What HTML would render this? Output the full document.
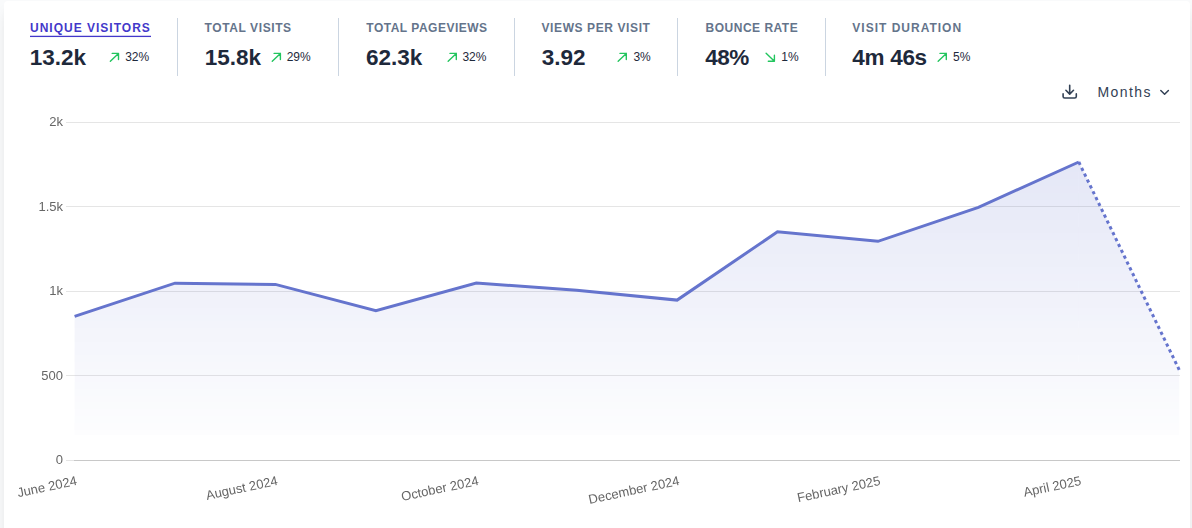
<!DOCTYPE html>
<html><head><meta charset="utf-8"><style>
html,body{margin:0;padding:0;width:1192px;height:528px;overflow:hidden;background:#f9fafb;font-family:'Liberation Sans', sans-serif;}
.card{position:absolute;left:4px;top:1px;width:1186px;height:560px;background:#fff;border-radius:4px;box-shadow:0 10px 15px -3px rgba(0,0,0,.1), 0 4px 6px -4px rgba(0,0,0,.1);}
svg{position:absolute;left:0;top:0;}
svg text{font-family:'Liberation Sans', sans-serif;}
.chart{will-change:transform;}
</style></head><body>
<div class="card"></div>
<svg width="1192" height="528" viewBox="0 0 1192 528">
<rect x="177" y="18" width="1" height="58" fill="#cbd5e1"/>
<rect x="338" y="18" width="1" height="58" fill="#cbd5e1"/>
<rect x="514" y="18" width="1" height="58" fill="#cbd5e1"/>
<rect x="677" y="18" width="1" height="58" fill="#cbd5e1"/>
<rect x="825" y="18" width="1" height="58" fill="#cbd5e1"/>
<text x="30" y="32" font-size="12" font-weight="700" letter-spacing="1.0" fill="#4338ca">UNIQUE VISITORS</text>
<text x="29.8" y="65" font-size="22.5" font-weight="700" letter-spacing="0.0" fill="#1e293b">13.2k</text>
<path d="M110.35 61.3 L118.50 53.4 M112.20 53.4 H118.50 V59.6" stroke="#22c55e" stroke-width="1.4" fill="none" stroke-linecap="round" stroke-linejoin="round"/>
<text x="125.2" y="61" font-size="12" fill="#1e293b">32%</text>
<text x="204.5" y="32" font-size="12" font-weight="700" letter-spacing="0.6" fill="#64748b">TOTAL VISITS</text>
<text x="204.8" y="65" font-size="22.5" font-weight="700" letter-spacing="0.0" fill="#1e293b">15.8k</text>
<path d="M272.25 61.3 L280.40 53.4 M274.10 53.4 H280.40 V59.6" stroke="#22c55e" stroke-width="1.4" fill="none" stroke-linecap="round" stroke-linejoin="round"/>
<text x="286.7" y="61" font-size="12" fill="#1e293b">29%</text>
<text x="366.3" y="32" font-size="12" font-weight="700" letter-spacing="0.5" fill="#64748b">TOTAL PAGEVIEWS</text>
<text x="365.9" y="65" font-size="22.5" font-weight="700" letter-spacing="0.0" fill="#1e293b">62.3k</text>
<path d="M448.15 61.3 L456.30 53.4 M450.00 53.4 H456.30 V59.6" stroke="#22c55e" stroke-width="1.4" fill="none" stroke-linecap="round" stroke-linejoin="round"/>
<text x="462.4" y="61" font-size="12" fill="#1e293b">32%</text>
<text x="541.5" y="32" font-size="12" font-weight="700" letter-spacing="0.6" fill="#64748b">VIEWS PER VISIT</text>
<text x="541.7" y="65" font-size="22.5" font-weight="700" letter-spacing="0.0" fill="#1e293b">3.92</text>
<path d="M618.15 61.3 L626.30 53.4 M620.00 53.4 H626.30 V59.6" stroke="#22c55e" stroke-width="1.4" fill="none" stroke-linecap="round" stroke-linejoin="round"/>
<text x="633.4" y="61" font-size="12" fill="#1e293b">3%</text>
<text x="705.6" y="32" font-size="12" font-weight="700" letter-spacing="0.5" fill="#64748b">BOUNCE RATE</text>
<text x="705.3" y="65" font-size="22.5" font-weight="700" letter-spacing="-0.5" fill="#1e293b">48%</text>
<path d="M766.10 53.2 L774.40 61.3 M768.30 61.3 H774.40 V55.3" stroke="#22c55e" stroke-width="1.4" fill="none" stroke-linecap="round" stroke-linejoin="round"/>
<text x="781.3" y="61" font-size="12" fill="#1e293b">1%</text>
<text x="852.3" y="32" font-size="12" font-weight="700" letter-spacing="1.0" fill="#64748b">VISIT DURATION</text>
<text x="852.3" y="65" font-size="22.5" font-weight="700" letter-spacing="-0.3" fill="#1e293b">4m 46s</text>
<path d="M938.15 61.3 L946.30 53.4 M940.00 53.4 H946.30 V59.6" stroke="#22c55e" stroke-width="1.4" fill="none" stroke-linecap="round" stroke-linejoin="round"/>
<text x="953" y="61" font-size="12" fill="#1e293b">5%</text>
<rect x="30" y="35.75" width="121" height="1.3" fill="#4338ca"/>
<path d="M1069.7 85.3 V94 M1065.9 90.3 L1069.7 94.1 L1073.5 90.3 M1063.1 93.9 V96.4 Q1063.1 98 1064.7 98 H1074.7 Q1076.3 98 1076.3 96.4 V93.9" stroke="#334155" stroke-width="1.6" fill="none" stroke-linecap="round" stroke-linejoin="round"/>
<text x="1097.5" y="97" font-size="14" letter-spacing="1.4" fill="#334155">Months</text>
<path d="M1160.8 90.5 L1164.6 94.3 L1168.4 90.5" stroke="#334155" stroke-width="1.5" fill="none" stroke-linecap="round" stroke-linejoin="round"/>
</svg>
<svg class="chart" width="1192" height="528" viewBox="0 0 1192 528">
<defs><clipPath id="c1"><polygon points="74.6,435 74.6,316.3 175.0,283.2 275.4,284.4 375.9,310.8 476.3,283.0 576.7,290.2 677.1,300.1 777.5,231.8 878.0,241.3 978.4,207.3 1078.8,162.0 1078.8,435"/></clipPath><clipPath id="c2"><polygon points="1078.8,435 1078.8,162.0 1179.2,369.8 1179.2,435"/></clipPath></defs>
<line x1="66" y1="122.5" x2="1180" y2="122.5" stroke="#e5e5e5" stroke-width="1"/>
<text x="63" y="126" font-size="13" text-anchor="end" fill="#666">2k</text>
<line x1="66" y1="206.5" x2="1180" y2="206.5" stroke="#e5e5e5" stroke-width="1"/>
<text x="63" y="211" font-size="13" text-anchor="end" fill="#666">1.5k</text>
<line x1="66" y1="291.5" x2="1180" y2="291.5" stroke="#e5e5e5" stroke-width="1"/>
<text x="63" y="295" font-size="13" text-anchor="end" fill="#666">1k</text>
<line x1="66" y1="375.5" x2="1180" y2="375.5" stroke="#e5e5e5" stroke-width="1"/>
<text x="63" y="380" font-size="13" text-anchor="end" fill="#666">500</text>
<line x1="66" y1="460.5" x2="1180" y2="460.5" stroke="#e5e5e5" stroke-width="1"/>
<text x="63" y="464" font-size="13" text-anchor="end" fill="#666">0</text>
<line x1="74" y1="460.5" x2="1180" y2="460.5" stroke="#c8c8c8" stroke-width="1"/>
<g clip-path="url(#c1)" fill="rgb(101,116,205)"><rect x="70" y="150" width="1012" height="2" fill-opacity="0.1804"/><rect x="70" y="152" width="1012" height="7" fill-opacity="0.1765"/><rect x="70" y="159" width="1012" height="7" fill-opacity="0.1725"/><rect x="70" y="166" width="1012" height="6" fill-opacity="0.1686"/><rect x="70" y="172" width="1012" height="7" fill-opacity="0.1647"/><rect x="70" y="179" width="1012" height="7" fill-opacity="0.1608"/><rect x="70" y="186" width="1012" height="7" fill-opacity="0.1569"/><rect x="70" y="193" width="1012" height="7" fill-opacity="0.1529"/><rect x="70" y="200" width="1012" height="6" fill-opacity="0.1490"/><rect x="70" y="206" width="1012" height="7" fill-opacity="0.1451"/><rect x="70" y="213" width="1012" height="7" fill-opacity="0.1412"/><rect x="70" y="220" width="1012" height="7" fill-opacity="0.1373"/><rect x="70" y="227" width="1012" height="6" fill-opacity="0.1333"/><rect x="70" y="233" width="1012" height="7" fill-opacity="0.1294"/><rect x="70" y="240" width="1012" height="7" fill-opacity="0.1255"/><rect x="70" y="247" width="1012" height="7" fill-opacity="0.1216"/><rect x="70" y="254" width="1012" height="6" fill-opacity="0.1176"/><rect x="70" y="260" width="1012" height="7" fill-opacity="0.1137"/><rect x="70" y="267" width="1012" height="7" fill-opacity="0.1098"/><rect x="70" y="274" width="1012" height="7" fill-opacity="0.1059"/><rect x="70" y="281" width="1012" height="7" fill-opacity="0.1020"/><rect x="70" y="288" width="1012" height="6" fill-opacity="0.0980"/><rect x="70" y="294" width="1012" height="7" fill-opacity="0.0941"/><rect x="70" y="301" width="1012" height="7" fill-opacity="0.0902"/><rect x="70" y="308" width="1012" height="7" fill-opacity="0.0863"/><rect x="70" y="315" width="1012" height="6" fill-opacity="0.0824"/><rect x="70" y="321" width="1012" height="7" fill-opacity="0.0784"/><rect x="70" y="328" width="1012" height="7" fill-opacity="0.0745"/><rect x="70" y="335" width="1012" height="7" fill-opacity="0.0706"/><rect x="70" y="342" width="1012" height="6" fill-opacity="0.0667"/><rect x="70" y="348" width="1012" height="7" fill-opacity="0.0627"/><rect x="70" y="355" width="1012" height="7" fill-opacity="0.0588"/><rect x="70" y="362" width="1012" height="7" fill-opacity="0.0549"/><rect x="70" y="369" width="1012" height="6" fill-opacity="0.0510"/><rect x="70" y="375" width="1012" height="7" fill-opacity="0.0471"/><rect x="70" y="382" width="1012" height="7" fill-opacity="0.0431"/><rect x="70" y="389" width="1012" height="7" fill-opacity="0.0392"/><rect x="70" y="396" width="1012" height="6" fill-opacity="0.0353"/><rect x="70" y="402" width="1012" height="7" fill-opacity="0.0314"/><rect x="70" y="409" width="1012" height="7" fill-opacity="0.0275"/><rect x="70" y="416" width="1012" height="7" fill-opacity="0.0235"/><rect x="70" y="423" width="1012" height="7" fill-opacity="0.0196"/><rect x="70" y="430" width="1012" height="5" fill-opacity="0.0157"/></g>
<g clip-path="url(#c2)" fill="rgb(101,116,205)"><rect x="1075" y="150" width="110" height="2" fill-opacity="0.1804"/><rect x="1075" y="152" width="110" height="7" fill-opacity="0.1765"/><rect x="1075" y="159" width="110" height="7" fill-opacity="0.1725"/><rect x="1075" y="166" width="110" height="6" fill-opacity="0.1686"/><rect x="1075" y="172" width="110" height="7" fill-opacity="0.1647"/><rect x="1075" y="179" width="110" height="7" fill-opacity="0.1608"/><rect x="1075" y="186" width="110" height="7" fill-opacity="0.1569"/><rect x="1075" y="193" width="110" height="7" fill-opacity="0.1529"/><rect x="1075" y="200" width="110" height="6" fill-opacity="0.1490"/><rect x="1075" y="206" width="110" height="7" fill-opacity="0.1451"/><rect x="1075" y="213" width="110" height="7" fill-opacity="0.1412"/><rect x="1075" y="220" width="110" height="7" fill-opacity="0.1373"/><rect x="1075" y="227" width="110" height="6" fill-opacity="0.1333"/><rect x="1075" y="233" width="110" height="7" fill-opacity="0.1294"/><rect x="1075" y="240" width="110" height="7" fill-opacity="0.1255"/><rect x="1075" y="247" width="110" height="7" fill-opacity="0.1216"/><rect x="1075" y="254" width="110" height="6" fill-opacity="0.1176"/><rect x="1075" y="260" width="110" height="7" fill-opacity="0.1137"/><rect x="1075" y="267" width="110" height="7" fill-opacity="0.1098"/><rect x="1075" y="274" width="110" height="7" fill-opacity="0.1059"/><rect x="1075" y="281" width="110" height="7" fill-opacity="0.1020"/><rect x="1075" y="288" width="110" height="6" fill-opacity="0.0980"/><rect x="1075" y="294" width="110" height="7" fill-opacity="0.0941"/><rect x="1075" y="301" width="110" height="7" fill-opacity="0.0902"/><rect x="1075" y="308" width="110" height="7" fill-opacity="0.0863"/><rect x="1075" y="315" width="110" height="6" fill-opacity="0.0824"/><rect x="1075" y="321" width="110" height="7" fill-opacity="0.0784"/><rect x="1075" y="328" width="110" height="7" fill-opacity="0.0745"/><rect x="1075" y="335" width="110" height="7" fill-opacity="0.0706"/><rect x="1075" y="342" width="110" height="6" fill-opacity="0.0667"/><rect x="1075" y="348" width="110" height="7" fill-opacity="0.0627"/><rect x="1075" y="355" width="110" height="7" fill-opacity="0.0588"/><rect x="1075" y="362" width="110" height="7" fill-opacity="0.0549"/><rect x="1075" y="369" width="110" height="6" fill-opacity="0.0510"/><rect x="1075" y="375" width="110" height="7" fill-opacity="0.0471"/><rect x="1075" y="382" width="110" height="7" fill-opacity="0.0431"/><rect x="1075" y="389" width="110" height="7" fill-opacity="0.0392"/><rect x="1075" y="396" width="110" height="6" fill-opacity="0.0353"/><rect x="1075" y="402" width="110" height="7" fill-opacity="0.0314"/><rect x="1075" y="409" width="110" height="7" fill-opacity="0.0275"/><rect x="1075" y="416" width="110" height="7" fill-opacity="0.0235"/><rect x="1075" y="423" width="110" height="7" fill-opacity="0.0196"/><rect x="1075" y="430" width="110" height="5" fill-opacity="0.0157"/></g>
<polyline points="74.6,316.3 175.0,283.2 275.4,284.4 375.9,310.8 476.3,283.0 576.7,290.2 677.1,300.1 777.5,231.8 878.0,241.3 978.4,207.3 1078.8,162.0" fill="none" stroke="rgb(101,116,205)" stroke-width="3" stroke-linejoin="miter"/>
<line x1="1078.8" y1="162.0" x2="1179.2" y2="369.8" stroke="rgb(101,116,205)" stroke-width="3" stroke-dasharray="3.252 3.252"/>
<text transform="translate(77.6,484.7) rotate(-12)" font-size="13" text-anchor="end" fill="#666">June 2024</text>
<text transform="translate(278.4,484.7) rotate(-12)" font-size="13" text-anchor="end" fill="#666">August 2024</text>
<text transform="translate(479.3,484.7) rotate(-12)" font-size="13" text-anchor="end" fill="#666">October 2024</text>
<text transform="translate(680.1,484.7) rotate(-12)" font-size="13" text-anchor="end" fill="#666">December 2024</text>
<text transform="translate(881.0,484.7) rotate(-12)" font-size="13" text-anchor="end" fill="#666">February 2025</text>
<text transform="translate(1081.8,484.7) rotate(-12)" font-size="13" text-anchor="end" fill="#666">April 2025</text>
</svg>
</body></html>
